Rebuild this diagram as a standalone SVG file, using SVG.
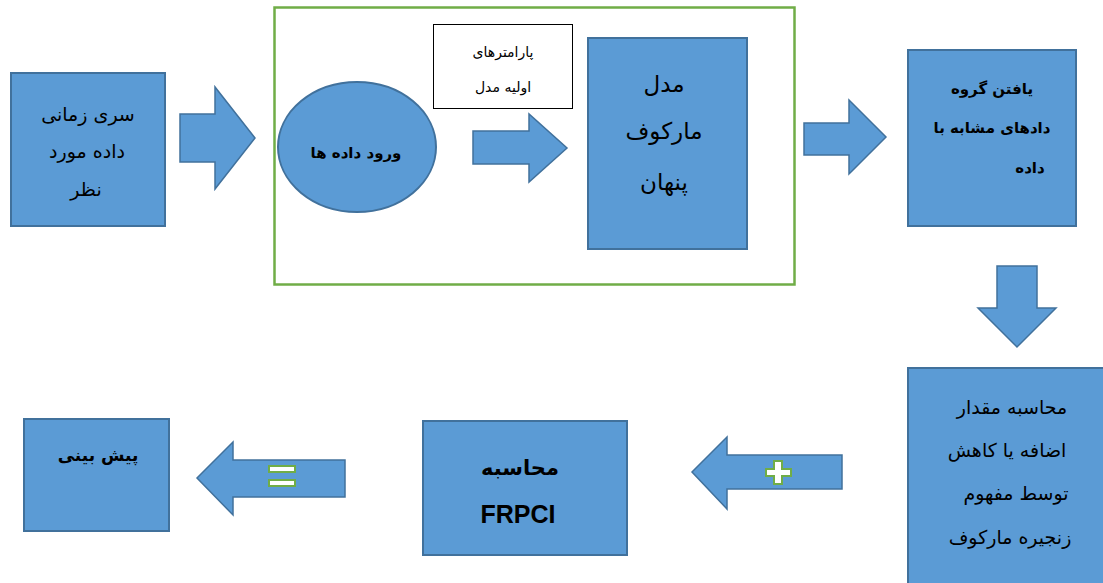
<svg xmlns="http://www.w3.org/2000/svg" width="1103" height="583" viewBox="0 0 1103 583">
  <style>
    .box { fill: #5B9BD5; stroke: #41719C; stroke-width: 2; }
    .arrow { fill: #5B9BD5; stroke: #41719C; stroke-width: 1.5; stroke-linejoin: miter; }
    .sign { fill: #FFFFFF; stroke: #70AD47; stroke-width: 2; }
    .fa { font-family: "DejaVu Sans", "Noto Sans", sans-serif; fill: #000000; text-anchor: middle; }
    .b { font-weight: bold; }
  </style>
  <rect width="1103" height="583" fill="#FFFFFF"/>

  <!-- group frame around the modelling stage -->
  <g id="frame">
    <rect x="274.5" y="7.5" width="520" height="277" fill="none" stroke="#70AD47" stroke-width="2.5"/>
  </g>

  <g id="node-series">
    <rect class="box" x="11" y="73" width="154" height="153"/>
    <text class="fa" x="88" y="121" font-size="19">سری زمانی</text>
    <text class="fa" x="87" y="158" font-size="19">داده مورد</text>
    <text class="fa" x="86" y="196" font-size="19">نظر</text>
  </g>

  <g id="node-input">
    <ellipse class="box" cx="357" cy="147" rx="79" ry="65"/>
    <text class="fa b" x="356" y="158" font-size="15">ورود داده ها</text>
  </g>

  <g id="node-params">
    <rect x="433.5" y="24.5" width="139" height="84" fill="#FFFFFF" stroke="#000000" stroke-width="1"/>
    <text class="fa" x="503" y="57" font-size="14">پارامترهای</text>
    <text class="fa" x="503" y="92" font-size="14">اولیه مدل</text>
  </g>

  <g id="node-hmm">
    <rect class="box" x="588" y="38" width="159" height="211"/>
    <text class="fa" x="664" y="92" font-size="23">مدل</text>
    <text class="fa" x="664" y="139" font-size="23">مارکوف</text>
    <text class="fa" x="664" y="190" font-size="23">پنهان</text>
  </g>

  <g id="node-group">
    <rect class="box" x="908" y="50" width="168" height="176"/>
    <text class="fa b" x="992" y="94" font-size="15">یافتن گروه</text>
    <text class="fa b" x="992" y="133" font-size="15">دادهای مشابه با</text>
    <text class="fa b" x="1030" y="173" font-size="15">داده</text>
  </g>

  <g id="node-markov-chain">
    <rect class="box" x="908" y="368" width="200" height="220"/>
    <text class="fa" x="1012" y="414" font-size="19">محاسبه مقدار</text>
    <text class="fa" x="1007" y="457" font-size="19">اضافه یا کاهش</text>
    <text class="fa" x="1016" y="500" font-size="19">توسط مفهوم</text>
    <text class="fa" x="1010" y="544" font-size="19">زنجیره مارکوف</text>
  </g>

  <g id="node-frpci">
    <rect class="box" x="423" y="421" width="204" height="134"/>
    <text class="fa b" x="520" y="475" font-size="21">محاسبه</text>
    <text x="518" y="523" font-family="'Liberation Sans', Arial, sans-serif" font-weight="bold" font-size="25" text-anchor="middle" fill="#000000">FRPCI</text>
  </g>

  <g id="node-forecast">
    <rect class="box" x="24" y="419" width="145" height="112"/>
    <text class="fa b" x="98" y="461" font-size="17">پیش بینی</text>
  </g>

  <!-- block arrows linking the stages -->
  <g id="connectors">
    <polygon class="arrow" points="180,114 215,114 215,87 255,138 215,189 215,162 180,162"/>
    <polygon class="arrow" points="473,131 529,131 529,114 567,148 529,182 529,164 473,164"/>
    <polygon class="arrow" points="804,123 849,123 849,100 886,137 849,174 849,155 804,155"/>
    <polygon class="arrow" points="997,266 1037,266 1037,308 1056,308 1017,347 978,308 997,308"/>
    <polygon class="arrow" points="842,455 727,455 727,437 692,472 727,509 727,489 842,489"/>
    <polygon class="arrow" points="345,460 233,460 233,442 197,478 233,515 233,497 345,497"/>
    <!-- plus sign on the arrow into FRPCI -->
    <polygon class="sign" points="774,461 782,461 782,469 791,469 791,476 782,476 782,484 774,484 774,476 766,476 766,469 774,469"/>
    <!-- equals sign on the arrow into the forecast -->
    <rect class="sign" x="269" y="466" width="26" height="6"/>
    <rect class="sign" x="269" y="480" width="26" height="6"/>
  </g>
</svg>
